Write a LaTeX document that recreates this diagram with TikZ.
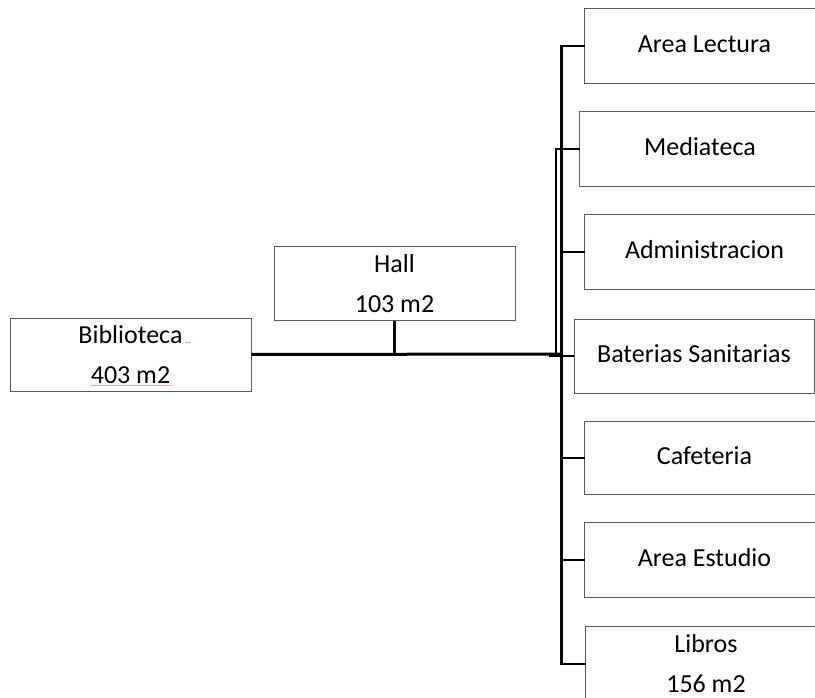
\documentclass[tikz,border=0pt]{standalone}
\usepackage{fontspec}
\setmainfont{Carlito}
\definecolor{boxgray}{HTML}{5A5A5A}
\definecolor{spell}{HTML}{F4A0A8}
\begin{document}
\begin{tikzpicture}[x=1pt,y=-1pt,
  boxbase/.style={draw=boxgray, line width=1pt, rectangle, inner sep=0pt,
    font=\fontsize{26}{40}\selectfont, align=center},
  onebox/.style={boxbase, text height=16pt, text depth=3pt},
  twobox/.style={boxbase},
  openbox/.style={draw=none},
  boxline/.style={draw=boxgray, line width=1pt},
  mainline/.style={line width=3pt},
  trunkline/.style={line width=2.6pt},
  conn/.style={line width=2.2pt}]
\useasboundingbox (0,0) rectangle (815,698);
\fill[white] (0,0) rectangle (815,698);
\coordinate (edge) at (815,0);

% left boxes
\node[twobox, minimum width=241pt, minimum height=73pt] (bib) at (130.5,354.5) {Biblioteca\\403 m2};
\node[twobox, minimum width=241pt, minimum height=73pt] (hall) at (394.5,283.5) {Hall\\103 m2};

% right boxes (cut by the right edge of the picture, except Baterias Sanitarias)
\node[onebox, openbox, minimum width=245pt, minimum height=74pt] (lectura) at (707.5,46) {\hspace*{-6pt}Area Lectura};
\node[onebox, openbox, minimum width=246pt, minimum height=74pt] (media) at (703,149) {\hspace*{-6pt}Mediateca};
\node[onebox, openbox, minimum width=245pt, minimum height=74pt] (admin) at (707.5,252) {\hspace*{-6pt}Administracion};
\node[onebox, minimum width=240pt, minimum height=74pt] (banos) at (694,356) {Baterias Sanitarias};
\node[onebox, openbox, minimum width=245pt, minimum height=72pt] (cafe) at (707.5,458) {\hspace*{-6pt}Cafeteria};
\node[onebox, openbox, minimum width=245pt, minimum height=74pt] (estudio) at (707.5,560) {\hspace*{-6pt}Area Estudio};
\node[twobox, openbox, minimum width=246pt, minimum height=74pt] (libros) at (709,664) {\hspace*{-6pt}Libros\\\hspace*{-6pt}156 m2};

\foreach \b in {lectura,media,admin,cafe,estudio}
  \draw[boxline] (\b.north west -| edge) -- (\b.north west) -- (\b.south west) -- (\b.south west -| edge);
\draw[boxline] (libros.north west -| edge) -- (libros.north west) -- (libros.west |- 0,698);

% junction points
\coordinate (j) at (562,354);
\coordinate (mj) at (556,355);

% connectors
\draw[mainline] (bib.east) -- (j);
\draw[conn] (hall.south) -- (hall.south |- j);
\draw[trunkline] (lectura.west) -- ++(-23,0) |- (libros.west);
\draw[trunkline] (media.west) -| (mj);
\draw[conn] (admin.west) -- (admin.west -| j);
\draw[conn] (banos.west) -- ++(-25,0);
\draw[conn] (cafe.west) -- (cafe.west -| j);
\draw[conn] (estudio.west) -- (estudio.west -| j);

% spell-check marks
\draw[spell, line width=0.8pt] (185,342.5) -- (191,342.5);
\draw[spell, line width=0.8pt] (91,385) -- (172,385);
\end{tikzpicture}
\end{document}
